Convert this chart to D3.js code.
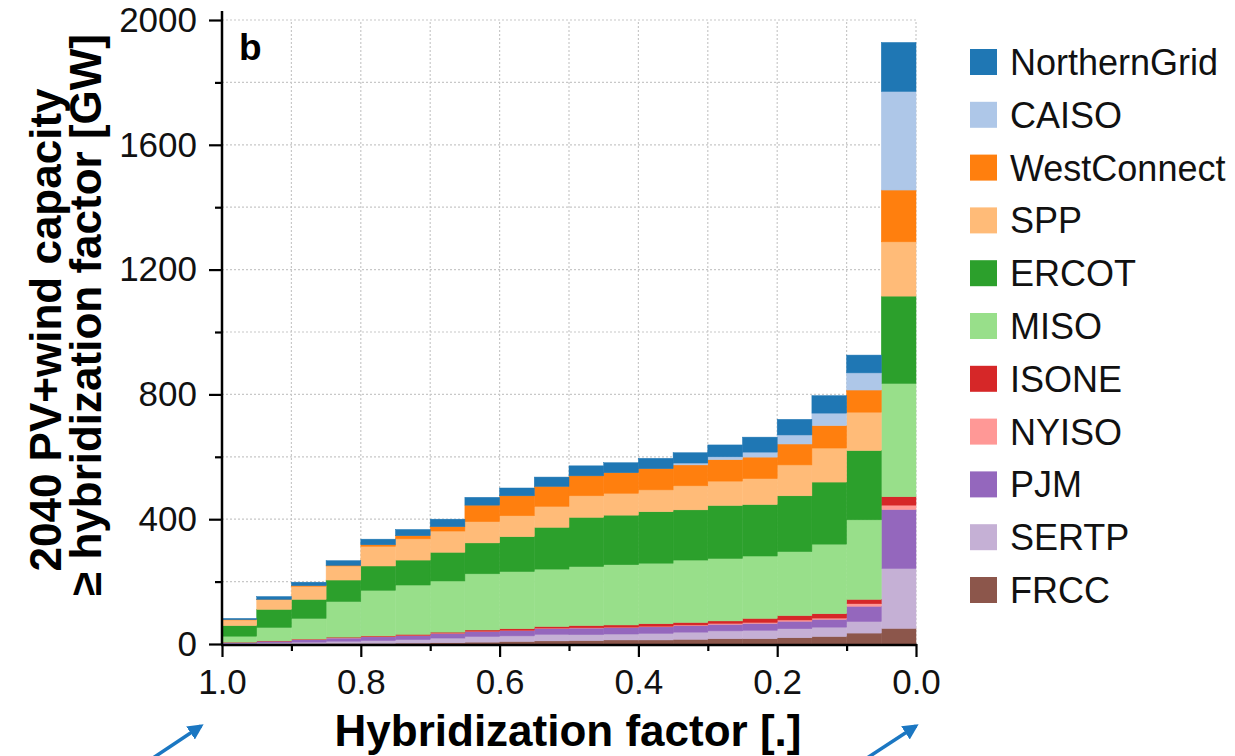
<!DOCTYPE html>
<html>
<head>
<meta charset="utf-8">
<script src="https://cdn.jsdelivr.net/npm/d3@7"></script>
<style>
  body { margin: 0; background: #fff; }
  text { font-family: "Liberation Sans", Arial, Helvetica, sans-serif; }
</style>
</head>
<body>
<script>
// left edge of each 0.05 bin (bar spans [hf - 0.05, hf])
let binStart = [1.0, 0.95, 0.9, 0.85, 0.8, 0.75, 0.7, 0.65, 0.6, 0.55,
                0.5, 0.45, 0.4, 0.35, 0.3, 0.25, 0.2, 0.15, 0.1, 0.05];

// GW per region, stacked from bottom (FRCC) to top (NorthernGrid)
let FRCC         = [0, 1, 1, 2, 2, 3, 4, 6, 8, 10, 11, 13, 13, 15, 17, 17, 20, 24, 35, 50];
let SERTP        = [2, 3, 5, 7, 9, 11, 15, 18, 18, 21, 19, 19, 21, 23, 25, 27, 29, 30, 37, 192];
let PJM          = [3, 5, 8, 10, 12, 13, 15, 16, 17, 19, 21, 21, 21, 21, 21, 22, 24, 25, 49, 189];
let NYISO        = [0, 0, 1, 1, 1, 1, 1, 1, 1, 1, 1, 1, 2, 2, 3, 3, 4, 4, 8, 14];
let ISONE        = [1, 1, 1, 2, 2, 3, 3, 4, 5, 5, 7, 7, 8, 8, 8, 13, 14, 14, 14, 27];
let MISO         = [19, 43, 66, 114, 146, 158, 164, 180, 183, 184, 189, 193, 194, 200, 200, 200, 205, 223, 255, 363];
let ERCOT        = [34, 58, 61, 69, 78, 80, 92, 99, 112, 134, 158, 159, 165, 161, 170, 165, 179, 199, 222, 280];
let SPP          = [18, 31, 42, 45, 63, 68, 68, 68, 67, 67, 69, 70, 70, 77, 78, 83, 99, 109, 123, 174];
let WestConnect  = [1, 1, 2, 2, 5, 10, 14, 53, 64, 64, 64, 66, 68, 67, 69, 69, 67, 72, 71, 166];
let CAISO        = [0, 0, 0, 0, 0, 0, 0, 0, 0, 0, 0, 0, 0, 6, 9, 16, 29, 40, 55, 316];
let NorthernGrid = [4, 9, 11, 15, 18, 20, 24, 25, 25, 30, 32, 32, 33, 33, 38, 48, 50, 56, 57, 157];

let regions = ["FRCC", "SERTP", "PJM", "NYISO", "ISONE", "MISO", "ERCOT", "SPP", "WestConnect", "CAISO", "NorthernGrid"];
let seriesData = { FRCC, SERTP, PJM, NYISO, ISONE, MISO, ERCOT, SPP, WestConnect, CAISO, NorthernGrid };
let colors = {
    FRCC: "#8c564b", SERTP: "#c5b0d5", PJM: "#9467bd", NYISO: "#ff9896", ISONE: "#d62728",
    MISO: "#98df8a", ERCOT: "#2ca02c", SPP: "#ffbb78", WestConnect: "#ff7f0e",
    CAISO: "#aec7e8", NorthernGrid: "#1f77b4"
};

let yTicks = [0, 400, 800, 1200, 1600, 2000];
let xTicks = [1.0, 0.8, 0.6, 0.4, 0.2, 0.0];

let rows = binStart.map((hf, i) => {
    let r = { hf: hf };
    regions.forEach(k => r[k] = seriesData[k][i]);
    return r;
});

let svg = d3.select("body").append("svg")
    .attr("width", 1235)
    .attr("height", 756);

let x = d3.scaleLinear().domain([1, 0]).range([222, 916]);
let y = d3.scaleLinear().domain([0, 2000]).range([644, 20]);

// grid
let grid = svg.append("g");
grid.selectAll(".gx")
    .data(d3.range(0, 11).map(i => i / 10))
    .enter().append("line")
    .attr("x1", d => x(d)).attr("x2", d => x(d))
    .attr("y1", y(0)).attr("y2", y(2000))
    .attr("stroke", "#c8c8c8").attr("stroke-width", 1.2).attr("stroke-dasharray", "2,2");
grid.selectAll(".gy")
    .data(d3.range(1, 11).map(i => i * 200))
    .enter().append("line")
    .attr("x1", x(1)).attr("x2", x(0))
    .attr("y1", d => y(d)).attr("y2", d => y(d))
    .attr("stroke", "#c8c8c8").attr("stroke-width", 1.2).attr("stroke-dasharray", "2,2");

// stacked bars
let stacked = d3.stack().keys(regions)(rows);

svg.append("g").selectAll("g")
    .data(stacked)
    .enter().append("g")
    .attr("fill", d => colors[d.key])
    .attr("stroke", d => colors[d.key])
    .attr("stroke-width", 0.5)
    .selectAll("rect")
    .data(d => d)
    .enter().append("rect")
    .attr("x", d => x(d.data.hf))
    .attr("width", d => x(d.data.hf - 0.05) - x(d.data.hf))
    .attr("y", d => y(d[1]))
    .attr("height", d => y(d[0]) - y(d[1]));

// axes
let yAxisMinor = d3.axisLeft(y).tickValues(d3.range(200, 2000, 400)).tickSize(7).tickFormat("");
let yAxis = d3.axisLeft(y).tickValues(yTicks).tickSize(13).tickPadding(12).tickFormat(d3.format("d"));
let xAxisMinor = d3.axisBottom(x).tickValues([0.9, 0.7, 0.5, 0.3, 0.1]).tickSize(7).tickFormat("");
let xAxis = d3.axisBottom(x).tickValues(xTicks).tickSize(13).tickPadding(12).tickFormat(d3.format(".1f"));

function styleAxis(g) {
    g.select(".domain").remove();
    g.selectAll("line").attr("stroke", "#000").attr("stroke-width", 2.2);
    g.selectAll("text").attr("fill", "#111").style("font-size", "35px");
}

svg.append("g").attr("transform", `translate(${x(1)},0)`).call(yAxisMinor).call(styleAxis);
svg.append("g").attr("transform", `translate(${x(1)},0)`).call(yAxis).call(styleAxis);
svg.append("g").attr("transform", `translate(0,${y(0)})`).call(xAxisMinor).call(styleAxis);
svg.append("g").attr("transform", `translate(0,${y(0)})`).call(xAxis).call(styleAxis);

// spines
svg.append("line")
    .attr("x1", x(1)).attr("x2", x(1)).attr("y1", y(0) + 1).attr("y2", 11)
    .attr("stroke", "#000").attr("stroke-width", 2.5);
svg.append("line")
    .attr("x1", x(1) - 1).attr("x2", x(0) + 1).attr("y1", y(0) + 1).attr("y2", y(0) + 1)
    .attr("stroke", "#000").attr("stroke-width", 2.5);

// axis titles
svg.append("text")
    .attr("transform", "translate(61,330) rotate(-90)")
    .attr("text-anchor", "middle")
    .style("font-size", "44px").style("font-weight", "bold")
    .text("2040 PV+wind capacity");
svg.append("text")
    .attr("transform", "translate(101,315) rotate(-90)")
    .attr("text-anchor", "middle")
    .style("font-size", "44px").style("font-weight", "bold")
    .text("≥ hybridization factor [GW]");
svg.append("text")
    .attr("x", 568).attr("y", 746)
    .attr("text-anchor", "middle")
    .style("font-size", "44px").style("font-weight", "bold")
    .text("Hybridization factor [.]");

svg.append("text")
    .attr("x", 239).attr("y", 60)
    .style("font-size", "37px").style("font-weight", "bold")
    .text("b");

// legend, top entry first
let legend = svg.append("g").selectAll("g")
    .data(regions.slice().reverse())
    .enter().append("g")
    .attr("transform", (d, i) => `translate(970,${62 + i * 52.8})`);
legend.append("rect")
    .attr("x", 0).attr("y", -13)
    .attr("width", 27).attr("height", 26)
    .attr("fill", d => colors[d]);
legend.append("text")
    .attr("x", 40).attr("y", 13)
    .style("font-size", "36px")
    .attr("fill", "#111")
    .text(d => d);

// blue arrows under the x axis ends
let defs = svg.append("defs");
defs.append("marker")
    .attr("id", "arrow")
    .attr("viewBox", "0 0 10 10")
    .attr("refX", 8).attr("refY", 5)
    .attr("markerWidth", 4.5).attr("markerHeight", 4.5)
    .attr("orient", "auto")
    .append("path")
    .attr("d", "M0,0 L10,5 L0,10 Z")
    .attr("fill", "#1b77c2");

let arrows = [[150, 760, 201, 726], [864, 760, 916, 726]];
svg.selectAll(".arrow")
    .data(arrows)
    .enter().append("line")
    .attr("x1", d => d[0]).attr("y1", d => d[1])
    .attr("x2", d => d[2]).attr("y2", d => d[3])
    .attr("stroke", "#1b77c2").attr("stroke-width", 3.5)
    .attr("marker-end", "url(#arrow)");
</script>
</body>
</html>
